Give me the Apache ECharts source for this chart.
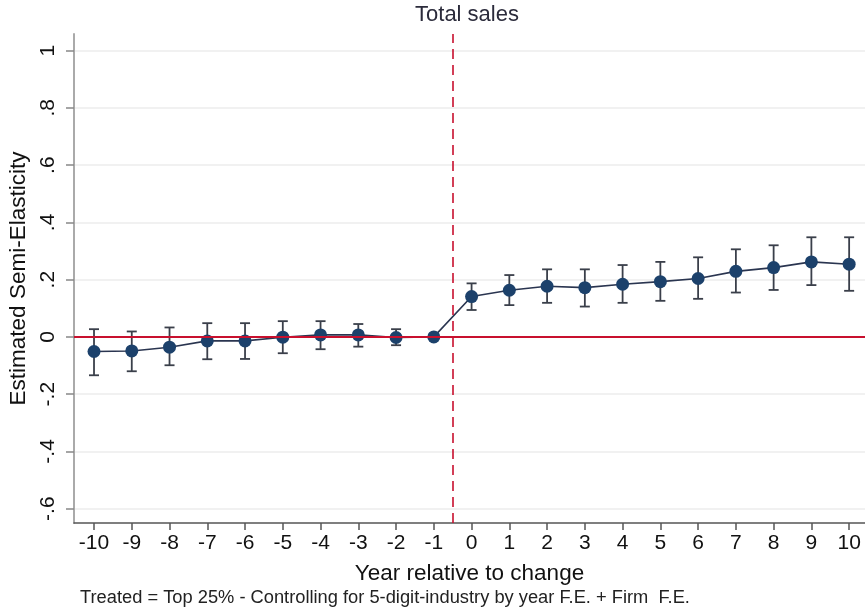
<!DOCTYPE html>
<html>
<head>
<meta charset="utf-8">
<script src="https://cdn.jsdelivr.net/npm/echarts@6/dist/echarts.min.js"></script>
<style>html,body{margin:0;padding:0;background:#fff;}#chart{width:865px;height:615px;}</style>
</head>
<body>
<div id="chart"></div>
<script>
const years = [-10,-9,-8,-7,-6,-5,-4,-3,-2,-1,0,1,2,3,4,5,6,7,8,9,10];
const coef  = [-0.051,-0.049,-0.036,-0.014,-0.014,-0.001,0.007,0.007,-0.002,0,0.141,0.163,0.177,0.172,0.184,0.193,0.204,0.229,0.242,0.262,0.254];
const ciLow = [-0.134,-0.120,-0.099,-0.078,-0.077,-0.057,-0.043,-0.034,-0.029,null,0.094,0.111,0.119,0.106,0.119,0.126,0.133,0.155,0.164,0.181,0.161];
const ciHigh= [0.027,0.019,0.033,0.048,0.048,0.055,0.055,0.045,0.027,null,0.187,0.216,0.236,0.236,0.251,0.262,0.278,0.306,0.320,0.348,0.348];
const yTicks = [-0.6,-0.4,-0.2,0,0.2,0.4,0.6,0.8,1];
const yTickLabels = ['-.6','-.4','-.2','0','.2','.4','.6','.8','1'];
const xTicks = years;
const eventLine = -0.5;
const titleText = 'Total sales';
const xName = 'Year relative to change';
const yName = 'Estimated Semi-Elasticity';
const note = 'Treated = Top 25% - Controlling for 5-digit-industry by year F.E. + Firm  F.E.';

const chart = echarts.init(document.getElementById('chart'), null, {renderer:'canvas'});
const font = '"Liberation Sans", Arial, sans-serif';
const ciData = years.map((y,i)=>[y, ciLow[i], ciHigh[i]]).filter(d=>d[1]!==null);
const lineData = years.map((y,i)=>[y, coef[i]]);

const option = {
  animation:false,
  backgroundColor:'#fff',
  textStyle:{fontFamily:font},
  grid:{left:74, right:0, top:34, bottom:92, containLabel:false, outerBoundsMode:'none'},
  graphic:[
    {type:'text', x:467, y:4, style:{text:titleText, font:'22px '+font, fill:'#2b2b3b', textAlign:'center'}},
    {type:'text', x:80, y:589, style:{text:note, font:'18.3px '+font, fill:'#222', textAlign:'left'}}
  ],
  xAxis:{
    type:'value', min:-10.53, max:10.42,
    name:xName, nameLocation:'middle', nameGap:39,
    nameTextStyle:{fontSize:22.5, color:'#111', fontFamily:font},
    axisLine:{show:true, onZero:false, lineStyle:{color:'#555', width:1.5}},
    axisTick:{show:true, customValues:xTicks, length:7, lineStyle:{color:'#555', width:1.5}},
    axisLabel:{customValues:xTicks, fontSize:21, color:'#111', margin:10, fontFamily:font},
    splitLine:{show:false}
  },
  yAxis:{
    type:'value', min:-0.65, max:1.058,
    name:yName, nameLocation:'middle', nameGap:43, nameRotate:90,
    nameTextStyle:{fontSize:22.5, color:'#111', fontFamily:font},
    axisLine:{show:true, onZero:false, lineStyle:{color:'#aaa', width:2}},
    axisTick:{show:true, customValues:yTicks, length:8, lineStyle:{color:'#888', width:1.5}},
    axisLabel:{customValues:yTicks, rotate:90, fontSize:21, color:'#111', margin:15, fontFamily:font,
      formatter:(v)=>{const i=yTicks.findIndex(t=>Math.abs(t-v)<1e-6); return i>=0?yTickLabels[i]:'';}},
    splitLine:{show:true, lineStyle:{color:'#ececec', width:1.5}}
  },
  series:[
    {
      type:'line', data:[], silent:true,
      markLine:{silent:true, symbol:'none', label:{show:false},
        data:[
          {yAxis:0, lineStyle:{color:'#c8102e', width:2, type:'solid'}},
          {xAxis:eventLine, lineStyle:{color:'#c8102e', width:1.6, type:[10,6]}}
        ]}
    },
    {
      type:'custom', data:ciData, z:3,
      renderItem:(params, api)=>{
        const x = api.value(0);
        const lo = api.coord([x, api.value(1)]);
        const hi = api.coord([x, api.value(2)]);
        const w = 5;
        const st = {stroke:'#3a3f4a', lineWidth:1.8};
        return {type:'group', children:[
          {type:'line', shape:{x1:lo[0], y1:lo[1], x2:hi[0], y2:hi[1]}, style:st},
          {type:'line', shape:{x1:lo[0]-w, y1:lo[1], x2:lo[0]+w, y2:lo[1]}, style:st},
          {type:'line', shape:{x1:hi[0]-w, y1:hi[1], x2:hi[0]+w, y2:hi[1]}, style:st}
        ]};
      }
    },
    {
      type:'line', data:lineData, z:4,
      symbol:'circle', symbolSize:13,
      lineStyle:{color:'#2a3550', width:1.6},
      itemStyle:{color:'#1c416b', borderWidth:0}
    }
  ]
};
chart.setOption(option);
</script>
</body>
</html>
